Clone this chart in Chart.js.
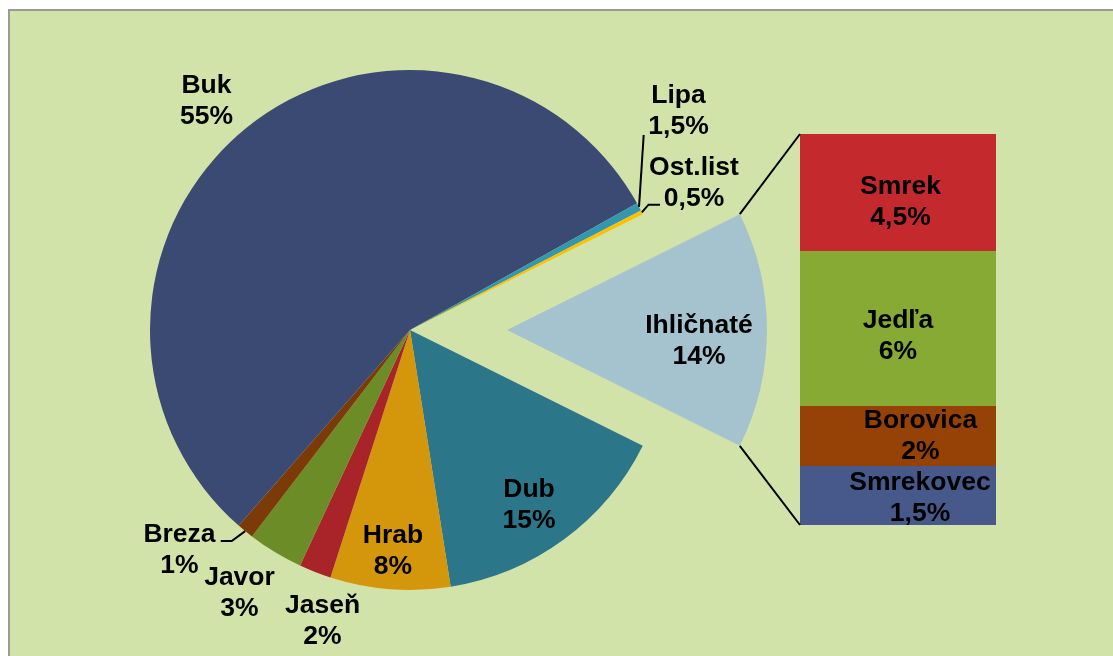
<!DOCTYPE html>
<html>
<head>
<meta charset="utf-8">
<script src="https://cdn.jsdelivr.net/npm/chart.js@4.4.1/dist/chart.umd.min.js"></script>
<style>
  html, body { margin:0; padding:0; background:#fff; overflow:hidden; }
  #frame { position:absolute; left:8px; top:9px; width:1200px; height:700px; background:#d2e3aa; border:2px solid #9a9a9a; }
  canvas { position:absolute; left:0; top:0; }
</style>
</head>
<body>
<div id="frame"></div>
<canvas id="pie" width="1113" height="656"></canvas>
<canvas id="cut" width="1113" height="656"></canvas>
<canvas id="bar" width="1113" height="656"></canvas>
<script>
// pie slices, clockwise starting with the split-off slice
const sliceNames  = ['Ihličnaté', 'Dub', 'Hrab', 'Jaseň', 'Javor', 'Breza', 'Buk', 'Lipa', 'Ost.list'];
const sliceShares = [14.7, 15.15, 7.45, 2.0, 3.45, 1.05, 55.45, 0.5, 0.25];
const sliceLabels = ['14%', '15%', '8%', '2%', '3%', '1%', '55%', '1,5%', '0,5%'];

// breakdown of Ihličnaté, top to bottom
const coniferNames  = ['Smrek', 'Jedľa', 'Borovica', 'Smrekovec'];
const coniferShares = [4.2, 5.55, 2.15, 2.1];
const coniferLabels = ['4,5%', '6%', '2%', '1,5%'];

const sliceColors   = ['#a5c3cf', '#2c768a', '#d4960a', '#a82429', '#6b8c26', '#7b3a08', '#3b4a73', '#3497b0', '#ffc000'];
const coniferColors = ['#c4292e', '#86aa33', '#964105', '#47598b'];

const FONT = '"Liberation Sans", Arial, sans-serif';
const LINE = 31;
const RADIUS = 260;
const EXPLODE = 97;

// text anchors: centre x, first baseline
const pieLabelAt = {
  'Buk': [206.5, 93], 'Lipa': [678.5, 103], 'Ost.list': [694, 174.5], 'Ihličnaté': [699, 332.5],
  'Dub': [529, 497], 'Hrab': [393, 543], 'Jaseň': [322.5, 612.5], 'Javor': [239.5, 585], 'Breza': [179.5, 542]
};
const barLabelAt = {
  'Smrek': [900.5, 193.5], 'Jedľa': [898, 328], 'Borovica': [920.5, 427.5], 'Smrekovec': [920, 489.5]
};
// leader line elbows, ending on the slice rim
const leaders = {
  'Lipa': [[643.7, 135]],
  'Ost.list': [[660, 204.7], [648.5, 204.7]],
  'Breza': [[220.7, 541], [231.7, 541]]
};

const total = sliceShares.reduce((a, b) => a + b, 0);
const rotation = 90 - sliceShares[0] / total * 180;

function pieConfig(colors, padLeft) {
  return {
    type: 'pie',
    data: { labels: sliceNames, datasets: [{ data: sliceShares, backgroundColor: colors, borderWidth: 0, radius: RADIUS }] },
    options: {
      responsive: false, animation: false, rotation,
      layout: { padding: { left: padLeft, right: 293, top: 4, bottom: 0 } },
      plugins: { legend: { display: false }, tooltip: { enabled: false } }
    }
  };
}

const pieChart = new Chart(document.getElementById('pie'),
  pieConfig(sliceColors.map((c, i) => i === 0 ? 'rgba(0,0,0,0)' : c), 0));
const cutChart = new Chart(document.getElementById('cut'),
  pieConfig(sliceColors.map((c, i) => i === 0 ? c : 'rgba(0,0,0,0)'), EXPLODE * 2));

function drawText(ctx, x, y, lines, size) {
  ctx.font = 'bold ' + size + 'px ' + FONT;
  ctx.fillStyle = '#000';
  ctx.textAlign = 'center';
  ctx.textBaseline = 'alphabetic';
  lines.forEach((t, i) => ctx.fillText(t, x, y + i * LINE));
}

const overlay = {
  id: 'overlay',
  afterDraw(chart) {
    const ctx = chart.ctx;
    ctx.save();
    ctx.strokeStyle = '#000';
    ctx.lineWidth = 2;

    // connector lines from the split slice to the bar
    const arc = cutChart.getDatasetMeta(0).data[0];
    const metas = chart.getSortedVisibleDatasetMetas();
    const topBar = metas[metas.length - 1].data[0];
    const bottomBar = metas[0].data[0];
    const left = chart.chartArea.left;
    ctx.beginPath();
    ctx.moveTo(arc.x + arc.outerRadius * Math.cos(arc.startAngle), arc.y + arc.outerRadius * Math.sin(arc.startAngle));
    ctx.lineTo(left, topBar.y);
    ctx.moveTo(arc.x + arc.outerRadius * Math.cos(arc.endAngle), arc.y + arc.outerRadius * Math.sin(arc.endAngle));
    ctx.lineTo(left, bottomBar.base);
    ctx.stroke();

    // leader lines
    const pieEls = pieChart.getDatasetMeta(0).data;
    Object.keys(leaders).forEach(name => {
      const el = pieEls[sliceNames.indexOf(name)];
      const mid = (el.startAngle + el.endAngle) / 2;
      const pts = leaders[name];
      ctx.beginPath();
      ctx.moveTo(pts[0][0], pts[0][1]);
      pts.slice(1).forEach(p => ctx.lineTo(p[0], p[1]));
      ctx.lineTo(el.x + el.outerRadius * Math.cos(mid), el.y + el.outerRadius * Math.sin(mid));
      ctx.stroke();
    });

    sliceNames.forEach((name, i) => {
      const p = pieLabelAt[name];
      drawText(ctx, p[0], p[1], [name, sliceLabels[i]], 26.5);
    });
    coniferNames.forEach((name, i) => {
      const p = barLabelAt[name];
      drawText(ctx, p[0], p[1], [name, coniferLabels[i]], 26.5);
    });
    ctx.restore();
  }
};

const coniferSum = coniferShares.reduce((a, b) => a + b, 0);
new Chart(document.getElementById('bar'), {
  type: 'bar',
  data: {
    labels: [''],
    datasets: coniferNames.map((n, i) => ({
      label: n, data: [coniferShares[i]], backgroundColor: coniferColors[i],
      borderWidth: 0, barPercentage: 1, categoryPercentage: 1
    })).reverse()
  },
  options: {
    responsive: false, animation: false,
    layout: { padding: { left: 800, right: 117, top: 134, bottom: 131 } },
    plugins: { legend: { display: false }, tooltip: { enabled: false } },
    scales: {
      x: { display: false, stacked: true },
      y: { display: false, stacked: true, min: 0, max: coniferSum }
    }
  },
  plugins: [overlay]
});
</script>
</body>
</html>
